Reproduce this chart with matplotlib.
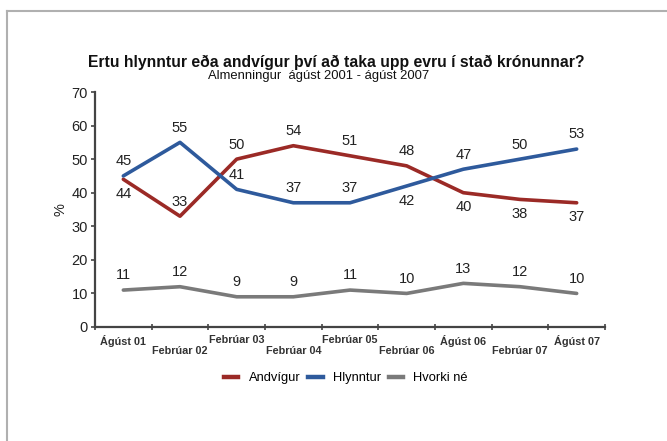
import matplotlib
matplotlib.use("Agg")
import matplotlib.pyplot as plt
from matplotlib.lines import Line2D

plt.rcParams['font.family'] = ['Liberation Sans', 'DejaVu Sans']

categories = ["Ágúst 01", "Febrúar 02", "Febrúar 03", "Febrúar 04", "Febrúar 05",
              "Febrúar 06", "Ágúst 06", "Febrúar 07", "Ágúst 07"]
andvigur = [44, 33, 50, 54, 51, 48, 40, 38, 37]
hlynntur = [45, 55, 41, 37, 37, 42, 47, 50, 53]
hvorki = [11, 12, 9, 9, 11, 10, 13, 12, 10]

# label placement: +1 above, -1 below
andvigur_pos = [-1, 1, 1, 1, 1, 1, -1, -1, -1]
hlynntur_pos = [1, 1, 1, 1, 1, -1, 1, 1, 1]
hvorki_pos = [1] * 9

RED = "#9b2a26"
BLUE = "#2e5a9c"
GRAY = "#7a7a7a"
TXT = "#222222"

fig = plt.figure(figsize=(6.67, 4.41), dpi=100)
fig.patch.set_facecolor("white")

# partial frame (top and left)
fig.add_artist(Line2D([7/667, 1], [1-11/441, 1-11/441], color="#b0b0b0", lw=1.5, transform=fig.transFigure))
fig.add_artist(Line2D([7/667, 7/667], [0, 1-11/441], color="#b0b0b0", lw=1.5, transform=fig.transFigure))

ax = fig.add_axes([95/667, 1-327/441, 510/667, 235/441])
x = list(range(len(categories)))

for vals, col, pos in [(andvigur, RED, andvigur_pos), (hlynntur, BLUE, hlynntur_pos), (hvorki, GRAY, hvorki_pos)]:
    ax.plot(x, vals, color=col, lw=2.6, solid_capstyle="round", solid_joinstyle="round")
    for xi, v, p in zip(x, vals, pos):
        ax.annotate(str(v), (xi, v), xytext=(0, 10.5 * p), textcoords="offset points",
                    ha="center", va="center", fontsize=10.5, color=TXT)

ax.set_xlim(-0.5, len(categories) - 0.5)
ax.set_ylim(0, 70)
ax.set_yticks(range(0, 71, 10))
ax.tick_params(axis="y", labelsize=10.5, labelcolor=TXT, length=3, width=1.2, color="#444444", pad=2)

ax.set_xticks(x)
ax.set_xticklabels([c if i % 2 == 0 else "\n" + c for i, c in enumerate(categories)],
                   fontsize=7.8, fontweight="bold", color="#333333", linespacing=1.1)
ax.tick_params(axis="x", which="major", length=0, pad=6)
ax.set_xticks([i + 0.5 for i in range(-1, len(categories))], minor=True)
ax.tick_params(axis="x", which="minor", length=5, width=1.2, direction="inout", color="#444444")

for s in ["top", "right"]:
    ax.spines[s].set_visible(False)
for s in ["left", "bottom"]:
    ax.spines[s].set_color("#444444")
    ax.spines[s].set_linewidth(1.6)

ax.set_ylabel("%", fontsize=10.5, color=TXT, labelpad=3)

fig.text(336/667, 1-62/441, "Ertu hlynntur eða andvígur því að taka upp evru í stað krónunnar?",
         ha="center", va="center", fontsize=11.3, fontweight="bold", color="#111111")
fig.text(319/667, 1-76/441, "Almenningur  ágúst 2001 - ágúst 2007",
         ha="center", va="center", fontsize=9.4, color="#111111")

handles = [Line2D([], [], color=RED, lw=3.2), Line2D([], [], color=BLUE, lw=3.2), Line2D([], [], color=GRAY, lw=3.2)]
fig.legend(handles, ["Andvígur", "Hlynntur", "Hvorki né"], loc="center", bbox_to_anchor=(346/667, 1-378/441),
           ncol=3, frameon=False, fontsize=9.3, handlelength=1.1, handletextpad=0.8, columnspacing=0.6)

fig.savefig("out.png", dpi=100, facecolor="white")
